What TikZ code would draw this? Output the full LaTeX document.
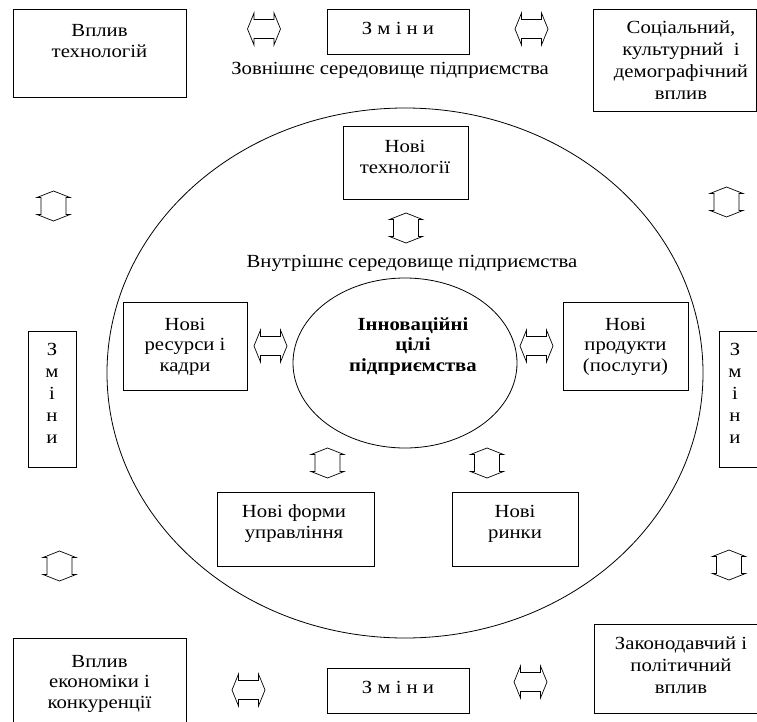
\documentclass[tikz,border=0pt]{standalone}
\usepackage{fontspec}
\setmainfont{Liberation Serif}[FakeStretch=1.12]
\usetikzlibrary{shapes.geometric}
\begin{document}
\begin{tikzpicture}[x=1pt,y=-1pt,
  bx/.style={draw, line width=0.8pt, inner sep=0pt, rectangle},
  tx/.style={inner sep=0pt, align=center, anchor=base, font=\fontsize{18.5}{20.5}\selectfont},
  tx22/.style={tx, font=\fontsize{18.5}{22}\selectfont},
  ell/.style={draw, line width=0.8pt, ellipse, inner sep=0pt},
  arrline/.style={draw, line width=0.7pt, line join=miter, fill=white},
  harrow/.pic={
    \path[arrline] (-16.5,0) -- (-10,-16) -- (-10,-9.5) -- (10,-9.5) -- (10,-16) -- (16.5,0)
      -- (10,16) -- (10,9.5) -- (-10,9.5) -- (-10,16) -- cycle;
    \coordinate (-c) at (0,0);},
  varrow/.pic={
    \path[arrline] (0,-15) -- (16.5,-8.5) -- (12.5,-8.5) -- (12.5,8.5) -- (16.5,8.5) -- (0,15)
      -- (-16.5,8.5) -- (-12.5,8.5) -- (-12.5,-8.5) -- (-16.5,-8.5) -- cycle;
    \coordinate (-c) at (0,0);}
]
\clip (0,0) rectangle (757,722);
\fill[white] (0,0) rectangle (757,722);

% ellipses
\node[ell, minimum width=596pt, minimum height=530pt] (outer) at (405,373) {};
\node[ell, minimum width=224pt, minimum height=170pt] (inner) at (405,363) {};
\node[tx, font=\fontsize{18.5}{20.5}\selectfont\bfseries] (goal) at (413,371) {Інноваційні\\цілі\\підприємства};

% top row
\node[bx, minimum width=173pt, minimum height=88pt] (tech) at (99.5,53) {};
\node[tx] (techT) at (99.5,57.3) {Вплив\\технологій};
\pic (a1) at (264,29) {harrow};
\node[bx, minimum width=142pt, minimum height=45pt] (chT) at (398,31.5) {};
\node[tx] (chTT) at (398,35) {З м і н и};
\pic (a2) at (531.5,29) {harrow};
\node[bx, minimum width=163pt, minimum height=102pt] (soc) at (674.5,60) {};
\node[tx22] (socT) at (681,99.3) {Соціальний,\\культурний\ \ і\\демографічний\\вплив};
\node[tx] (ext) at (390,75) {Зовнішнє середовище підприємства};

% inner elements
\node[bx, minimum width=125pt, minimum height=73pt] (newtech) at (405.5,162.5) {};
\node[tx] (newtechT) at (405,173.3) {Нові\\технології};
\pic (a3) at (406,228) {varrow};
\node[tx] (int) at (412,267) {Внутрішнє середовище підприємства};

\node[bx, minimum width=124pt, minimum height=88pt] (res) at (185,346) {};
\node[tx] (resT) at (185,371) {Нові\\ресурси і\\кадри};
\pic (a4) at (270.5,346) {harrow};
\pic (a5) at (536.5,346) {harrow};
\node[bx, minimum width=125pt, minimum height=88pt] (prod) at (625.5,346) {};
\node[tx] (prodT) at (625.5,371) {Нові\\продукти\\(послуги)};

\pic (a6) at (327.5,463) {varrow};
\pic (a7) at (487,463) {varrow};
\node[bx, minimum width=157pt, minimum height=74pt] (man) at (295.5,529) {};
\node[tx] (manT) at (294,538.3) {Нові форми\\управління};
\node[bx, minimum width=126pt, minimum height=74pt] (mark) at (515,529) {};
\node[tx] (markT) at (515,538.3) {Нові\\ринки};

% sides
\pic (a8) at (53.5,206) {varrow};
\node[bx, minimum width=48pt, minimum height=136pt] (chL) at (52,399) {};
\node[tx22] (chLT) at (52,443) {З\\м\\і\\н\\и};
\pic (a9) at (726.5,202) {varrow};
\node[bx, minimum width=60pt, minimum height=136pt] (chR) at (749,399) {};
\node[tx22] (chRT) at (735,443) {З\\м\\і\\н\\и};
\pic (a10) at (59.5,566) {varrow};
\pic (a11) at (729,565) {varrow};

% bottom row
\node[bx, minimum width=173pt, minimum height=100pt] (eco) at (99.5,688) {};
\node[tx] (ecoT) at (99.5,708.3) {Вплив\\економіки і\\конкуренції};
\pic (a12) at (248.5,690) {harrow};
\node[bx, minimum width=142pt, minimum height=45pt] (chB) at (398,690.5) {};
\node[tx] (chBT) at (398,693.3) {З м і н и};
\pic (a13) at (530.5,682) {harrow};
\node[bx, minimum width=170pt, minimum height=89pt] (law) at (679,668.5) {};
\node[tx22] (lawT) at (681,693) {Законодавчий і\\політичний\\вплив};
\end{tikzpicture}
\end{document}
